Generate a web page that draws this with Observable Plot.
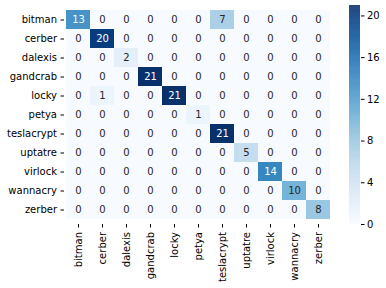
<!DOCTYPE html>
<html><head><meta charset="utf-8">
<script src="https://cdn.jsdelivr.net/npm/d3@7"></script>
<script src="https://cdn.jsdelivr.net/npm/@observablehq/plot@0.6"></script>
<style>
body{margin:0;background:#fff;}
#wrap{position:relative;width:386px;height:288px;font-family:"DejaVu Sans",sans-serif;}
#wrap svg{position:absolute;left:0;top:0;}
</style></head>
<body><div id="wrap"></div>
<script>
const labels = ["bitman","cerber","dalexis","gandcrab","locky","petya","teslacrypt","uptatre","virlock","wannacry","zerber"];
const matrix = [
  [13,0,0,0,0,0,7,0,0,0,0],
  [0,20,0,0,0,0,0,0,0,0,0],
  [0,0,2,0,0,0,0,0,0,0,0],
  [0,0,0,21,0,0,0,0,0,0,0],
  [0,1,0,0,21,0,0,0,0,0,0],
  [0,0,0,0,0,1,0,0,0,0,0],
  [0,0,0,0,0,0,21,0,0,0,0],
  [0,0,0,0,0,0,0,5,0,0,0],
  [0,0,0,0,0,0,0,0,14,0,0],
  [0,0,0,0,0,0,0,0,0,10,0],
  [0,0,0,0,0,0,0,0,0,0,8]
];
const colorTicks = [0,4,8,12,16,20];
const vmax = 21;

const cells = [];
matrix.forEach((row,i)=>row.forEach((v,j)=>cells.push({t:labels[i],p:labels[j],v})));

const color = {type:"linear", scheme:"blues", domain:[0,vmax]};
const style = {fontFamily:"DejaVu Sans, sans-serif", fontSize:"10px", color:"#000", background:"transparent"};

const main = Plot.plot({
  width:386, height:288,
  marginLeft:64, marginRight:54, marginTop:5, marginBottom:64,
  style,
  x:{domain:labels, padding:0, label:null, tickRotate:-90, tickSize:3.5, tickPadding:4},
  y:{domain:labels, padding:0, label:null, tickSize:3.5, tickPadding:4},
  color,
  marks:[
    Plot.cell(cells,{x:"p", y:"t", fill:"v"}),
    Plot.text(cells,{x:"p", y:"t", text:d=>String(d.v), fontSize:10,
      fill:d=>d.v/vmax>0.55?"#ffffff":"#262626"})
  ]
});

const strips = d3.range(0, vmax, 0.05).map(v=>({a:v,b:Math.min(v+0.05+0.02,vmax),c:v+0.025}));
const bar = Plot.plot({
  width:386, height:288,
  marginLeft:349, marginRight:26, marginTop:5, marginBottom:64,
  style,
  x:{domain:[0,1], axis:null},
  y:{domain:[0,vmax], axis:"right", ticks:colorTicks, tickSize:3.5, tickPadding:3, label:null},
  color,
  marks:[
    Plot.rect(strips,{x1:0, x2:1, y1:"a", y2:"b", fill:"c"})
  ]
});
const wrap = document.getElementById("wrap");
wrap.appendChild(main);
wrap.appendChild(bar);
</script></body></html>
